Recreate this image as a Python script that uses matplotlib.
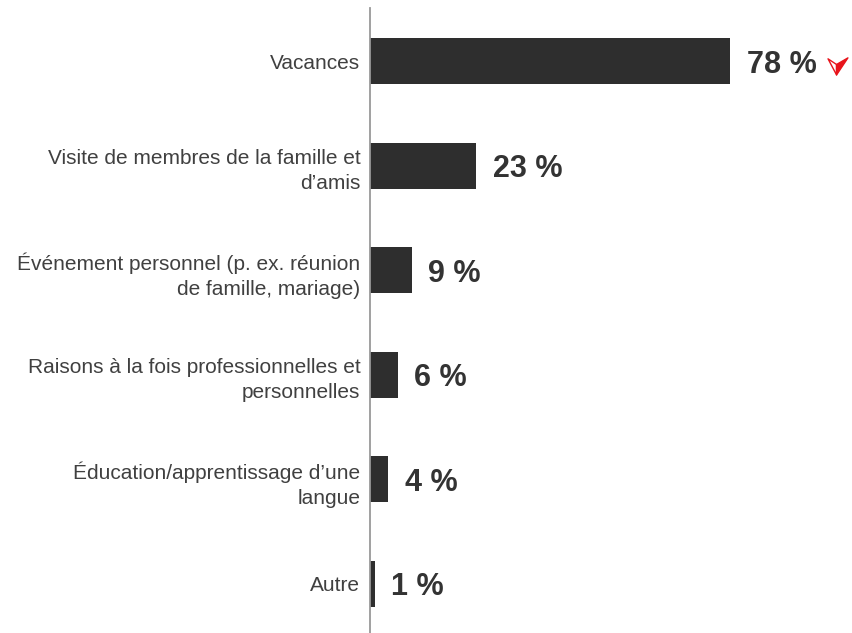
import matplotlib
matplotlib.use("Agg")
import matplotlib.pyplot as plt
from matplotlib.path import Path
from matplotlib.transforms import offset_copy

plt.rcParams["font.family"] = ["Liberation Sans", "DejaVu Sans"]

categories = [
    "Vacances",
    "Visite de membres de la famille et\nd\u2019amis",
    "\u00c9v\u00e9nement personnel (p. ex. r\u00e9union\nde famille, mariage)",
    "Raisons \u00e0 la fois professionnelles et\npersonnelles",
    "\u00c9ducation/apprentissage d\u2019une\nlangue",
    "Autre",
]
values = [78, 23, 9, 6, 4, 1]
value_labels = [f"{v} %" for v in values]

BAR = "#2e2e2e"
TEXT = "#333333"

fig = plt.figure(figsize=(8.52, 6.33), dpi=100)
ax = fig.add_axes([370 / 852, 0, 462 / 852, 625 / 633])

pos = list(range(len(categories)))
ax.barh(pos, values, height=0.44, color=BAR)
ax.set_xlim(0, 100)
ax.set_ylim(5.47, -0.51)

ax.set_yticks(pos)
ax.set_yticklabels(categories, fontsize=15, color="#404040", linespacing=1.4)
ax.tick_params(axis="y", length=0, pad=7)
ax.set_xticks([])
for s in ["top", "right", "bottom"]:
    ax.spines[s].set_visible(False)
ax.spines["left"].set_color("#999999")
ax.spines["left"].set_linewidth(1.3)

for y, v, lab in zip(pos, values, value_labels):
    ax.annotate(lab, (v, y), xytext=(12, 0), textcoords="offset points",
                ha="left", va="center_baseline", fontsize=22,
                fontweight="bold", color=TEXT)

# red arrow-head marker after the first value
left_half = Path([(-10, 6), (-1, 0), (-1, -11), (-10, 6)],
                 [Path.MOVETO, Path.LINETO, Path.LINETO, Path.CLOSEPOLY])
right_half = Path([(-1, 0), (11, 7), (-1, -11), (-1, 0)],
                  [Path.MOVETO, Path.LINETO, Path.LINETO, Path.CLOSEPOLY])
trans = offset_copy(ax.transData, fig=fig, x=107, y=-3, units="dots")
ax.plot([values[0]], [pos[0]], marker=left_half, ms=15, mfc="white",
        mec="#e8141b", mew=1, transform=trans, clip_on=False)
ax.plot([values[0]], [pos[0]], marker=right_half, ms=15, mfc="#e8141b",
        mec="#e8141b", mew=1, transform=trans, clip_on=False)

fig.savefig("out.png", dpi=100)
